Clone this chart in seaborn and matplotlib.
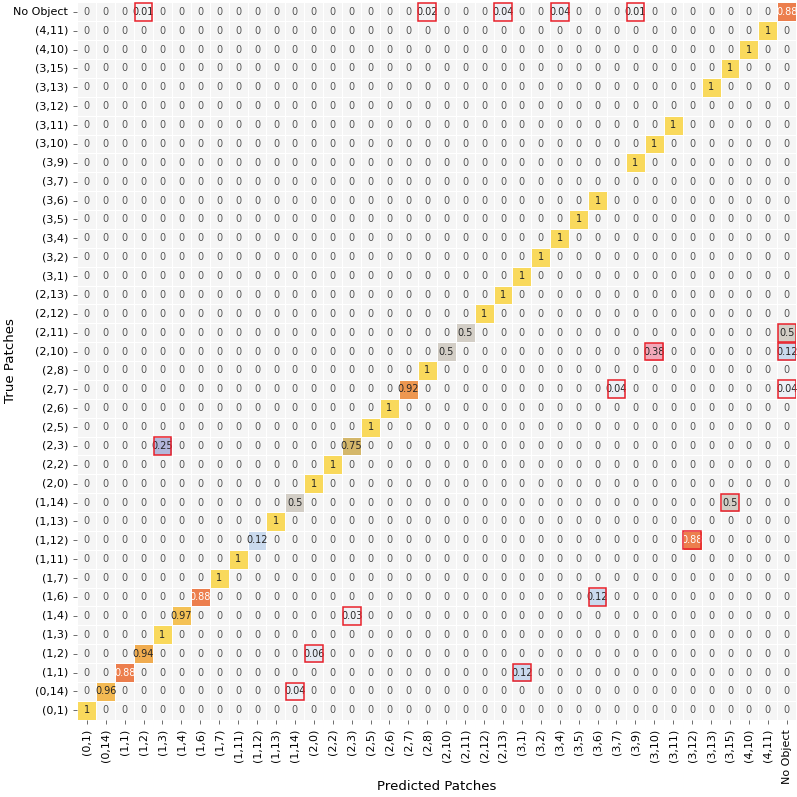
import numpy as np
import pandas as pd
import matplotlib
matplotlib.use("Agg")
import matplotlib.pyplot as plt
from matplotlib.colors import LinearSegmentedColormap
from matplotlib.patches import Rectangle
import seaborn as sns

labels = ["(0,1)", "(0,14)", "(1,1)", "(1,2)", "(1,3)", "(1,4)", "(1,6)", "(1,7)",
          "(1,11)", "(1,12)", "(1,13)", "(1,14)", "(2,0)", "(2,2)", "(2,3)", "(2,5)",
          "(2,6)", "(2,7)", "(2,8)", "(2,10)", "(2,11)", "(2,12)", "(2,13)", "(3,1)",
          "(3,2)", "(3,4)", "(3,5)", "(3,6)", "(3,7)", "(3,9)", "(3,10)", "(3,11)",
          "(3,12)", "(3,13)", "(3,15)", "(4,10)", "(4,11)", "No Object"]

# non-zero entries: true label, predicted label, value
true_labels = ["(0,1)", "(0,14)", "(0,14)", "(1,1)", "(1,1)", "(1,2)", "(1,2)", "(1,3)",
               "(1,4)", "(1,4)", "(1,6)", "(1,6)", "(1,7)", "(1,11)", "(1,12)", "(1,12)",
               "(1,13)", "(1,14)", "(1,14)", "(2,0)", "(2,2)", "(2,3)", "(2,3)", "(2,5)",
               "(2,6)", "(2,7)", "(2,7)", "(2,7)", "(2,8)", "(2,10)", "(2,10)", "(2,10)",
               "(2,11)", "(2,11)", "(2,12)", "(2,13)", "(3,1)", "(3,2)", "(3,4)", "(3,5)",
               "(3,6)", "(3,9)", "(3,10)", "(3,11)", "(3,13)", "(3,15)", "(4,10)", "(4,11)",
               "No Object", "No Object", "No Object", "No Object", "No Object", "No Object"]
pred_labels = ["(0,1)", "(0,14)", "(1,14)", "(1,1)", "(3,1)", "(1,2)", "(2,0)", "(1,3)",
               "(1,4)", "(2,3)", "(1,6)", "(3,6)", "(1,7)", "(1,11)", "(1,12)", "(3,12)",
               "(1,13)", "(1,14)", "(3,15)", "(2,0)", "(2,2)", "(1,3)", "(2,3)", "(2,5)",
               "(2,6)", "(2,7)", "(3,7)", "No Object", "(2,8)", "(2,10)", "(3,10)", "No Object",
               "(2,11)", "No Object", "(2,12)", "(2,13)", "(3,1)", "(3,2)", "(3,4)", "(3,5)",
               "(3,6)", "(3,9)", "(3,10)", "(3,11)", "(3,13)", "(3,15)", "(4,10)", "(4,11)",
               "(1,2)", "(2,8)", "(2,13)", "(3,4)", "(3,9)", "No Object"]
values = [1, 0.96, 0.04, 0.88, 0.12, 0.94, 0.06, 1,
          0.97, 0.03, 0.88, 0.12, 1, 1, 0.12, 0.88,
          1, 0.5, 0.5, 1, 1, 0.25, 0.75, 1,
          1, 0.92, 0.04, 0.04, 1, 0.5, 0.38, 0.12,
          0.5, 0.5, 1, 1, 1, 1, 1, 1,
          1, 1, 1, 1, 1, 1, 1, 1,
          0.01, 0.02, 0.04, 0.04, 0.01, 0.88]

df = pd.DataFrame(0.0, index=labels, columns=labels)
for t, p, v in zip(true_labels, pred_labels, values):
    df.loc[t, p] = v
df_plot = df.iloc[::-1]

cmap = LinearSegmentedColormap.from_list("custom", [
    (0.00, "#f5f5f5"),
    (0.04, "#edf0f6"),
    (0.12, "#c9d9ee"),
    (0.25, "#b3b7da"),
    (0.38, "#f1a8b9"),
    (0.50, "#d3cec7"),
    (0.75, "#d3b86b"),
    (0.88, "#ec7d4d"),
    (0.92, "#ee9550"),
    (0.94, "#f0ab50"),
    (0.97, "#f4bf54"),
    (1.00, "#f9d95c"),
])

fig = plt.figure(figsize=(7.97, 7.97), dpi=100)
ax = fig.add_axes([0.097, 0.097, 0.902, 0.9])
sns.heatmap(df_plot, ax=ax, cmap=cmap, vmin=0, vmax=1, annot=True, fmt="g",
            annot_kws={"size": 7}, cbar=False, linewidths=0.6, linecolor="white",
            square=False)

for txt in ax.texts:
    if txt.get_text() == "0":
        txt.set_color("#555555")

rows = list(df_plot.index)
for t, p, v in zip(true_labels, pred_labels, values):
    if t != p:
        r = rows.index(t)
        c = labels.index(p)
        ax.add_patch(Rectangle((c + 0.03, r + 0.03), 0.94, 0.94, fill=False,
                               edgecolor="#e8202a", linewidth=1.1, zorder=5))

ax.set_xticks(np.arange(len(labels)) + 0.5)
ax.set_xticklabels(labels, rotation=90, fontsize=8)
ax.set_yticks(np.arange(len(rows)) + 0.5)
ax.set_yticklabels(rows, rotation=0, fontsize=8)
ax.tick_params(length=3, width=0.6, color="#555555")
ax.set_xlabel("Predicted Patches", fontsize=9.6)
ax.set_ylabel("True Patches", fontsize=9.6)
ax.xaxis.set_label_coords(0.5, -0.093)
ax.yaxis.set_label_coords(-0.093, 0.5)
ax.xaxis.label.set_va("center")
ax.yaxis.label.set_va("center")

fig.savefig("out.png", dpi=100)
